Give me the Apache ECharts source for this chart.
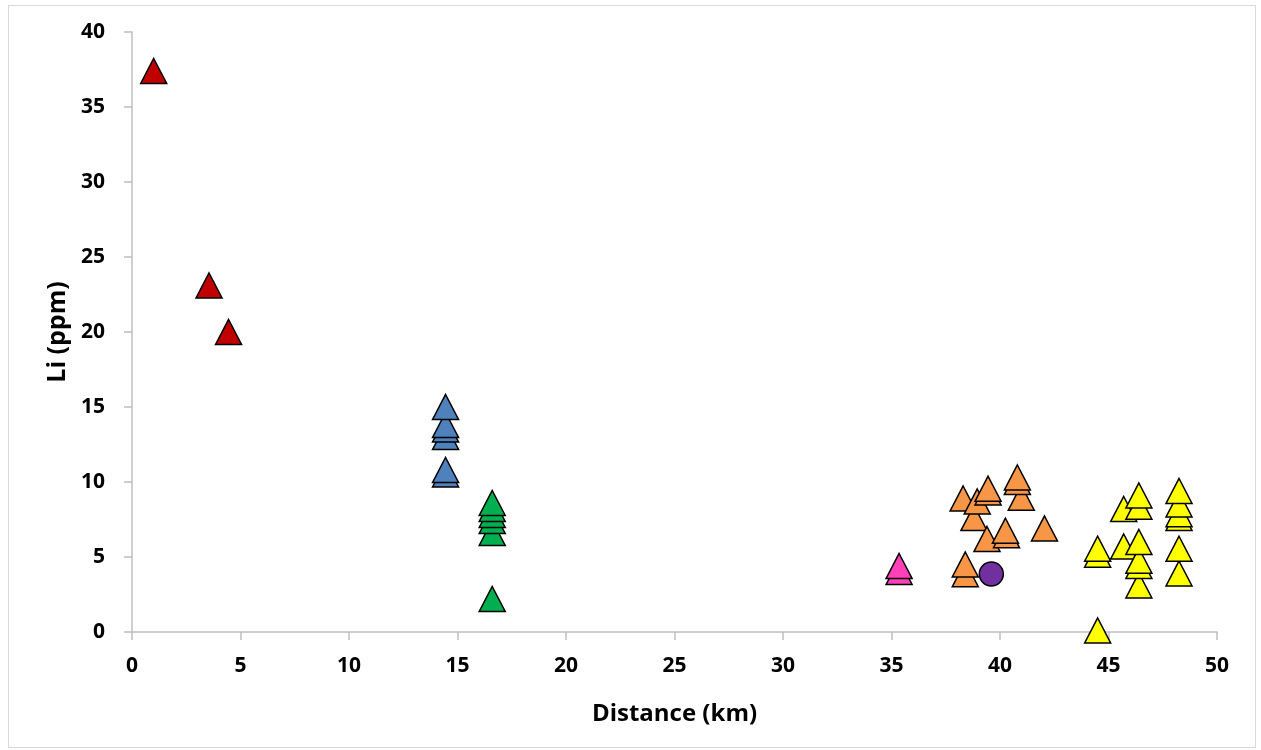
<!DOCTYPE html>
<html>
<head>
<meta charset="utf-8">
<script src="https://cdn.jsdelivr.net/npm/echarts@6/dist/echarts.min.js"></script>
<style>
  html, body { margin: 0; padding: 0; background: #fff; }
  #frame { position: absolute; left: 8px; top: 5px; width: 1248px; height: 743px; border: 1px solid #D9D9D9; box-sizing: border-box; }
  #chart { position: absolute; left: 0; top: 0; width: 1261px; height: 750px; }
</style>
</head>
<body>
<div id="frame"></div>
<div id="chart"></div>
<script>
// Li concentration against distance, grouped by site
const xTicks = [0, 5, 10, 15, 20, 25, 30, 35, 40, 45, 50];
const yTicks = [0, 5, 10, 15, 20, 25, 30, 35, 40];

const redPts = [[1.0, 37.4], [3.55, 23.1], [4.45, 20.0]];
const bluePts = [[14.45, 10.5], [14.45, 10.8], [14.45, 13.0], [14.45, 13.5], [14.45, 13.8], [14.45, 15.0]];
const greenPts = [[16.6, 2.2], [16.6, 6.6], [16.6, 7.4], [16.6, 7.8], [16.6, 8.2], [16.6, 8.6]];
const pinkPts = [[35.35, 4.0], [35.35, 4.4]];
const orangePts = [
  [38.3, 8.9], [38.4, 3.85], [38.4, 4.5],
  [38.8, 7.6], [38.95, 8.7],
  [39.45, 9.3], [39.45, 9.55], [39.4, 6.2],
  [40.3, 6.45], [40.25, 6.75],
  [40.98, 8.95], [40.8, 10.0], [40.8, 10.3],
  [42.05, 6.9]
];
const purplePts = [[39.6, 3.87]];
const yellowPts = [
  [44.5, 0.1], [44.5, 5.15], [44.5, 5.55],
  [45.7, 8.2], [45.7, 5.7],
  [46.4, 3.1], [46.4, 4.4], [46.4, 4.75], [46.4, 6.0], [46.4, 8.35], [46.4, 9.1],
  [48.25, 3.9], [48.25, 5.55], [48.25, 7.6], [48.25, 7.85], [48.25, 8.5], [48.25, 9.4]
];

const fontFamily = '"Open Sans", "Liberation Sans", sans-serif';

function tri(name, data, color) {
  return {
    name, type: 'scatter', data,
    symbol: 'triangle', symbolSize: [26, 25],
    itemStyle: { color, borderColor: '#000', borderWidth: 1.5, opacity: 1 },
    emphasis: { disabled: true }
  };
}

const chart = echarts.init(document.getElementById('chart'), null, { renderer: 'canvas' });
chart.setOption({
  animation: false,
  backgroundColor: 'transparent',
  grid: { left: 132, right: 44, top: 32, bottom: 118, containLabel: false },
  xAxis: {
    type: 'value', min: xTicks[0], max: xTicks[xTicks.length - 1], interval: 5,
    name: 'Distance (km)', nameLocation: 'middle', nameGap: 70,
    nameTextStyle: { fontFamily, fontWeight: 'bold', fontSize: 24, color: '#000' },
    axisLine: { show: true, lineStyle: { color: '#BFBFBF', width: 1.5 } },
    axisTick: { show: true, inside: false, length: 8, lineStyle: { color: '#BFBFBF', width: 1.5 } },
    axisLabel: { fontFamily, fontWeight: 'bold', fontSize: 21, color: '#000', margin: 24 },
    splitLine: { show: false }
  },
  yAxis: {
    type: 'value', min: yTicks[0], max: yTicks[yTicks.length - 1], interval: 5,
    name: 'Li (ppm)', nameLocation: 'middle', nameGap: 62, nameRotate: 90,
    nameTextStyle: { fontFamily, fontWeight: 'bold', fontSize: 25, color: '#000' },
    axisLine: { show: true, lineStyle: { color: '#BFBFBF', width: 1.5 } },
    axisTick: { show: true, inside: false, length: 8, lineStyle: { color: '#BFBFBF', width: 1.5 } },
    axisLabel: { fontFamily, fontWeight: 'bold', fontSize: 21, color: '#000', margin: 27 },
    splitLine: { show: false }
  },
  series: [
    tri('red', redPts, '#C00000'),
    tri('blue', bluePts, '#4F81BD'),
    tri('green', greenPts, '#00B050'),
    tri('pink', pinkPts, '#FF40B8'),
    tri('orange', orangePts, '#F79646'),
    {
      name: 'purple', type: 'scatter', data: purplePts,
      symbol: 'circle', symbolSize: 24,
      itemStyle: { color: '#7030A0', borderColor: '#000', borderWidth: 1.5, opacity: 1 },
      emphasis: { disabled: true }
    },
    tri('yellow', yellowPts, '#FFFF00')
  ]
});
</script>
</body>
</html>
